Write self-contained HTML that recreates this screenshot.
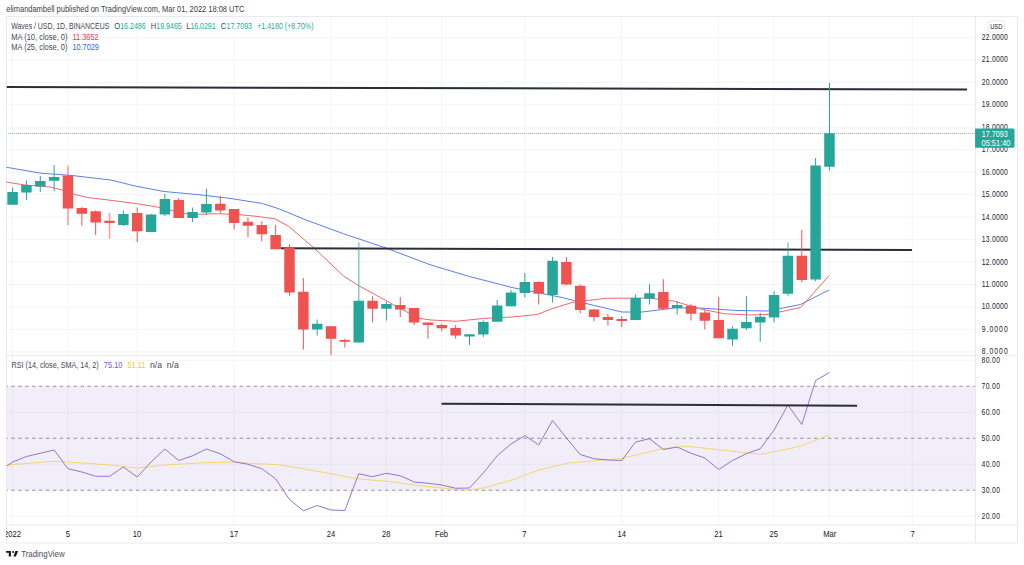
<!DOCTYPE html><html><head><meta charset="utf-8"><style>html,body{margin:0;padding:0;background:#fff;width:1024px;height:565px;overflow:hidden}svg{display:block;font-family:"Liberation Sans",sans-serif}</style></head><body>
<svg width="1024" height="565" viewBox="0 0 1024 565">
<rect x="0" y="0" width="1024" height="565" fill="#fff"/>
<defs><clipPath id="cm"><rect x="6.5" y="16.5" width="969" height="339"/></clipPath><clipPath id="cr"><rect x="6.5" y="355.5" width="969" height="169.5"/></clipPath></defs>
<g stroke="#f3f4f5" stroke-width="1"><line x1="12.50" y1="16.5" x2="12.50" y2="525"/><line x1="67.87" y1="16.5" x2="67.87" y2="525"/><line x1="137.09" y1="16.5" x2="137.09" y2="525"/><line x1="233.99" y1="16.5" x2="233.99" y2="525"/><line x1="330.89" y1="16.5" x2="330.89" y2="525"/><line x1="386.26" y1="16.5" x2="386.26" y2="525"/><line x1="441.63" y1="16.5" x2="441.63" y2="525"/><line x1="524.69" y1="16.5" x2="524.69" y2="525"/><line x1="621.59" y1="16.5" x2="621.59" y2="525"/><line x1="718.49" y1="16.5" x2="718.49" y2="525"/><line x1="773.87" y1="16.5" x2="773.87" y2="525"/><line x1="829.24" y1="16.5" x2="829.24" y2="525"/><line x1="912.29" y1="16.5" x2="912.29" y2="525"/><line x1="6.5" y1="351.80" x2="975.5" y2="351.80"/><line x1="6.5" y1="329.34" x2="975.5" y2="329.34"/><line x1="6.5" y1="306.88" x2="975.5" y2="306.88"/><line x1="6.5" y1="284.43" x2="975.5" y2="284.43"/><line x1="6.5" y1="261.97" x2="975.5" y2="261.97"/><line x1="6.5" y1="239.51" x2="975.5" y2="239.51"/><line x1="6.5" y1="217.06" x2="975.5" y2="217.06"/><line x1="6.5" y1="194.60" x2="975.5" y2="194.60"/><line x1="6.5" y1="172.14" x2="975.5" y2="172.14"/><line x1="6.5" y1="149.69" x2="975.5" y2="149.69"/><line x1="6.5" y1="127.23" x2="975.5" y2="127.23"/><line x1="6.5" y1="104.77" x2="975.5" y2="104.77"/><line x1="6.5" y1="82.31" x2="975.5" y2="82.31"/><line x1="6.5" y1="59.86" x2="975.5" y2="59.86"/><line x1="6.5" y1="37.40" x2="975.5" y2="37.40"/><line x1="6.5" y1="360.25" x2="975.5" y2="360.25"/><line x1="6.5" y1="412.25" x2="975.5" y2="412.25"/><line x1="6.5" y1="464.25" x2="975.5" y2="464.25"/><line x1="6.5" y1="516.25" x2="975.5" y2="516.25"/></g>
<rect x="6.5" y="386.25" width="969.0" height="104.00" fill="#7e57c2" fill-opacity="0.1"/>
<g stroke="#787b86" stroke-width="1" stroke-dasharray="3.46,3.46" stroke-dashoffset="2.1" opacity="0.8">
<line x1="6.5" y1="386.25" x2="975.5" y2="386.25"/>
<line x1="6.5" y1="438.25" x2="975.5" y2="438.25"/>
<line x1="6.5" y1="490.25" x2="975.5" y2="490.25"/>
</g>
<g stroke="#e8eaee" stroke-width="1" fill="none">
<rect x="6.5" y="16.5" width="1011.0" height="526.5"/>
<line x1="975.5" y1="16.5" x2="975.5" y2="543"/>
<line x1="6.5" y1="355.5" x2="1017.5" y2="355.5"/>
<line x1="6.5" y1="525" x2="1017.5" y2="525"/>
</g>
<g clip-path="url(#cm)">
<line x1="6" y1="133.5" x2="975.5" y2="133.5" stroke="#26a69a" stroke-width="1" stroke-dasharray="1,1" stroke-opacity="0.65" shape-rendering="crispEdges"/>
<polyline points="6.00,167.20 41.00,173.20 70.00,175.30 111.00,180.00 135.00,186.00 164.00,191.50 197.00,194.50 230.00,198.40 262.50,203.50 279.00,208.80 306.00,220.00 343.50,233.75 386.00,248.00 401.00,253.75 431.00,265.00 468.50,276.25 512.00,287.50 537.00,292.50 562.00,297.50 587.00,303.75 622.00,312.00 642.00,312.00 674.50,308.00 699.50,308.00 737.00,310.50 768.00,311.00 800.50,304.50 829.00,290.00" fill="none" stroke="#5b7ff0" stroke-width="1"/>
<polyline points="6.00,182.00 25.00,185.00 50.00,187.00 62.50,190.00 75.00,194.50 87.50,197.50 112.50,200.50 137.50,203.75 160.00,207.50 175.00,211.25 190.00,214.50 200.00,214.25 217.50,213.75 235.00,214.25 256.00,216.25 274.75,218.75 288.50,226.25 313.50,247.50 343.50,276.00 358.50,285.50 393.50,304.75 418.50,318.25 431.00,320.00 456.00,321.25 483.50,318.50 512.00,317.00 537.00,314.50 552.00,308.75 572.00,302.50 587.00,300.50 607.00,298.25 649.50,298.00 674.50,301.25 699.50,308.75 724.50,313.75 749.50,315.00 768.00,314.50 800.50,307.50 813.00,293.75 829.00,275.50" fill="none" stroke="#f0666a" stroke-width="1"/>
<line x1="6.5" y1="87" x2="967" y2="89.5" stroke="#2a2e39" stroke-width="2"/>
<line x1="281" y1="248.3" x2="912" y2="249.9" stroke="#2a2e39" stroke-width="2"/>
<line x1="12.60" y1="187.5" x2="12.60" y2="204.75" stroke="#26a69a" stroke-width="1"/>
<rect x="7.35" y="192" width="10.5" height="12.75" fill="#26a69a"/>
<line x1="26.45" y1="180.5" x2="26.45" y2="200" stroke="#26a69a" stroke-width="1"/>
<rect x="21.20" y="185" width="10.5" height="7.50" fill="#26a69a"/>
<line x1="40.29" y1="176" x2="40.29" y2="192" stroke="#26a69a" stroke-width="1"/>
<rect x="35.04" y="181" width="10.5" height="5.50" fill="#26a69a"/>
<line x1="54.14" y1="165" x2="54.14" y2="191" stroke="#26a69a" stroke-width="1"/>
<rect x="48.89" y="177" width="10.5" height="3.75" fill="#26a69a"/>
<line x1="67.98" y1="165.5" x2="67.98" y2="225" stroke="#ef5350" stroke-opacity="0.55" stroke-width="1.6"/>
<rect x="62.73" y="175.5" width="10.5" height="33.00" fill="#ef5350"/>
<line x1="81.83" y1="207" x2="81.83" y2="225.75" stroke="#ef5350" stroke-width="1"/>
<rect x="76.58" y="208" width="10.5" height="5.75" fill="#ef5350"/>
<line x1="95.67" y1="210.5" x2="95.67" y2="235" stroke="#ef5350" stroke-width="1"/>
<rect x="90.42" y="211.25" width="10.5" height="11.25" fill="#ef5350"/>
<line x1="109.52" y1="213" x2="109.52" y2="238.75" stroke="#ef5350" stroke-opacity="0.55" stroke-width="1.6"/>
<rect x="104.27" y="220.75" width="10.5" height="2.25" fill="#ef5350"/>
<line x1="123.36" y1="210.5" x2="123.36" y2="226" stroke="#26a69a" stroke-width="1"/>
<rect x="118.11" y="214" width="10.5" height="11.00" fill="#26a69a"/>
<line x1="137.21" y1="207.5" x2="137.21" y2="242" stroke="#ef5350" stroke-width="1"/>
<rect x="131.96" y="213" width="10.5" height="18.25" fill="#ef5350"/>
<line x1="151.05" y1="214" x2="151.05" y2="232" stroke="#26a69a" stroke-width="1"/>
<rect x="145.80" y="214.5" width="10.5" height="17.50" fill="#26a69a"/>
<line x1="164.90" y1="194" x2="164.90" y2="216" stroke="#26a69a" stroke-width="1"/>
<rect x="159.65" y="199" width="10.5" height="15.50" fill="#26a69a"/>
<line x1="178.74" y1="198" x2="178.74" y2="218" stroke="#ef5350" stroke-width="1"/>
<rect x="173.49" y="200" width="10.5" height="18.00" fill="#ef5350"/>
<line x1="192.59" y1="207.5" x2="192.59" y2="222" stroke="#26a69a" stroke-width="1"/>
<rect x="187.34" y="212" width="10.5" height="6.00" fill="#26a69a"/>
<line x1="206.43" y1="188.75" x2="206.43" y2="215" stroke="#26a69a" stroke-width="1"/>
<rect x="201.18" y="204" width="10.5" height="8.50" fill="#26a69a"/>
<line x1="220.28" y1="196" x2="220.28" y2="213" stroke="#ef5350" stroke-width="1"/>
<rect x="215.03" y="203.75" width="10.5" height="6.75" fill="#ef5350"/>
<line x1="234.12" y1="209" x2="234.12" y2="229.5" stroke="#ef5350" stroke-width="1"/>
<rect x="228.87" y="209" width="10.5" height="14.00" fill="#ef5350"/>
<line x1="247.97" y1="217.5" x2="247.97" y2="237" stroke="#ef5350" stroke-width="1"/>
<rect x="242.72" y="221.75" width="10.5" height="4.00" fill="#ef5350"/>
<line x1="261.81" y1="221.25" x2="261.81" y2="241.25" stroke="#ef5350" stroke-width="1"/>
<rect x="256.56" y="225" width="10.5" height="9.25" fill="#ef5350"/>
<line x1="275.66" y1="225" x2="275.66" y2="249.25" stroke="#ef5350" stroke-width="1"/>
<rect x="270.41" y="235" width="10.5" height="14.25" fill="#ef5350"/>
<line x1="289.50" y1="244.5" x2="289.50" y2="295.75" stroke="#ef5350" stroke-width="1"/>
<rect x="284.25" y="247.5" width="10.5" height="45.00" fill="#ef5350"/>
<line x1="303.35" y1="278" x2="303.35" y2="349.5" stroke="#ef5350" stroke-width="1"/>
<rect x="298.10" y="291.75" width="10.5" height="37.75" fill="#ef5350"/>
<line x1="317.19" y1="319.5" x2="317.19" y2="335.5" stroke="#26a69a" stroke-width="1"/>
<rect x="311.94" y="323.75" width="10.5" height="5.75" fill="#26a69a"/>
<line x1="331.04" y1="326.25" x2="331.04" y2="355.5" stroke="#ef5350" stroke-width="1"/>
<rect x="325.79" y="326.25" width="10.5" height="12.50" fill="#ef5350"/>
<line x1="344.88" y1="338.75" x2="344.88" y2="347.5" stroke="#ef5350" stroke-width="1"/>
<rect x="339.63" y="340" width="10.5" height="1.75" fill="#ef5350"/>
<line x1="358.73" y1="242.5" x2="358.73" y2="342.5" stroke="#26a69a" stroke-opacity="0.55" stroke-width="1.6"/>
<rect x="353.48" y="300.75" width="10.5" height="41.75" fill="#26a69a"/>
<line x1="372.57" y1="296.25" x2="372.57" y2="322.5" stroke="#ef5350" stroke-width="1"/>
<rect x="367.32" y="300.75" width="10.5" height="8.00" fill="#ef5350"/>
<line x1="386.42" y1="301.7" x2="386.42" y2="320.5" stroke="#26a69a" stroke-width="1"/>
<rect x="381.17" y="304" width="10.5" height="4.75" fill="#26a69a"/>
<line x1="400.26" y1="297" x2="400.26" y2="317" stroke="#ef5350" stroke-width="1"/>
<rect x="395.01" y="305" width="10.5" height="4.50" fill="#ef5350"/>
<line x1="414.11" y1="308" x2="414.11" y2="325" stroke="#ef5350" stroke-width="1"/>
<rect x="408.86" y="308" width="10.5" height="14.50" fill="#ef5350"/>
<line x1="427.95" y1="322.5" x2="427.95" y2="338.75" stroke="#ef5350" stroke-width="1"/>
<rect x="422.70" y="322.5" width="10.5" height="2.50" fill="#ef5350"/>
<line x1="441.80" y1="323.75" x2="441.80" y2="331.25" stroke="#ef5350" stroke-width="1"/>
<rect x="436.55" y="325" width="10.5" height="3.25" fill="#ef5350"/>
<line x1="455.64" y1="325" x2="455.64" y2="338.75" stroke="#ef5350" stroke-width="1"/>
<rect x="450.39" y="328" width="10.5" height="7.50" fill="#ef5350"/>
<line x1="469.49" y1="334.25" x2="469.49" y2="345" stroke="#26a69a" stroke-width="1"/>
<rect x="464.24" y="334.25" width="10.5" height="2.25" fill="#26a69a"/>
<line x1="483.33" y1="320.5" x2="483.33" y2="337" stroke="#26a69a" stroke-width="1"/>
<rect x="478.08" y="322" width="10.5" height="12.50" fill="#26a69a"/>
<line x1="497.18" y1="300" x2="497.18" y2="321.75" stroke="#26a69a" stroke-width="1"/>
<rect x="491.93" y="305.5" width="10.5" height="16.25" fill="#26a69a"/>
<line x1="511.02" y1="290" x2="511.02" y2="306.25" stroke="#26a69a" stroke-width="1"/>
<rect x="505.77" y="292.5" width="10.5" height="13.75" fill="#26a69a"/>
<line x1="524.87" y1="273" x2="524.87" y2="297.5" stroke="#26a69a" stroke-width="1"/>
<rect x="519.62" y="282" width="10.5" height="11.00" fill="#26a69a"/>
<line x1="538.71" y1="281.25" x2="538.71" y2="304.5" stroke="#ef5350" stroke-width="1"/>
<rect x="533.46" y="282" width="10.5" height="11.75" fill="#ef5350"/>
<line x1="552.56" y1="257" x2="552.56" y2="302.5" stroke="#26a69a" stroke-width="1"/>
<rect x="547.31" y="260.75" width="10.5" height="34.25" fill="#26a69a"/>
<line x1="566.40" y1="257" x2="566.40" y2="285.5" stroke="#ef5350" stroke-width="1"/>
<rect x="561.15" y="262" width="10.5" height="22.50" fill="#ef5350"/>
<line x1="580.25" y1="284.5" x2="580.25" y2="313.25" stroke="#ef5350" stroke-width="1"/>
<rect x="575.00" y="285.75" width="10.5" height="24.25" fill="#ef5350"/>
<line x1="594.09" y1="308.75" x2="594.09" y2="321.25" stroke="#ef5350" stroke-width="1"/>
<rect x="588.84" y="309.5" width="10.5" height="7.50" fill="#ef5350"/>
<line x1="607.94" y1="313.75" x2="607.94" y2="325.5" stroke="#ef5350" stroke-width="1"/>
<rect x="602.69" y="317" width="10.5" height="3.00" fill="#ef5350"/>
<line x1="621.78" y1="316.25" x2="621.78" y2="327" stroke="#ef5350" stroke-width="1"/>
<rect x="616.53" y="319" width="10.5" height="2.00" fill="#ef5350"/>
<line x1="635.62" y1="294.5" x2="635.62" y2="320" stroke="#26a69a" stroke-width="1"/>
<rect x="630.38" y="298" width="10.5" height="22.00" fill="#26a69a"/>
<line x1="649.47" y1="284.25" x2="649.47" y2="304.5" stroke="#26a69a" stroke-width="1"/>
<rect x="644.22" y="293.25" width="10.5" height="5.50" fill="#26a69a"/>
<line x1="663.32" y1="279.25" x2="663.32" y2="308.75" stroke="#ef5350" stroke-width="1"/>
<rect x="658.07" y="292" width="10.5" height="16.75" fill="#ef5350"/>
<line x1="677.16" y1="301.25" x2="677.16" y2="314.5" stroke="#26a69a" stroke-width="1"/>
<rect x="671.91" y="305" width="10.5" height="3.00" fill="#26a69a"/>
<line x1="691.01" y1="303.75" x2="691.01" y2="320.5" stroke="#ef5350" stroke-width="1"/>
<rect x="685.76" y="305.75" width="10.5" height="8.00" fill="#ef5350"/>
<line x1="704.85" y1="309.5" x2="704.85" y2="329.5" stroke="#ef5350" stroke-width="1"/>
<rect x="699.60" y="312.5" width="10.5" height="8.25" fill="#ef5350"/>
<line x1="718.70" y1="296.75" x2="718.70" y2="338.25" stroke="#ef5350" stroke-width="1"/>
<rect x="713.45" y="320" width="10.5" height="18.25" fill="#ef5350"/>
<line x1="732.54" y1="326.25" x2="732.54" y2="345.75" stroke="#26a69a" stroke-width="1"/>
<rect x="727.29" y="328.75" width="10.5" height="10.75" fill="#26a69a"/>
<line x1="746.39" y1="296.25" x2="746.39" y2="330" stroke="#26a69a" stroke-width="1"/>
<rect x="741.14" y="322" width="10.5" height="6.25" fill="#26a69a"/>
<line x1="760.23" y1="313" x2="760.23" y2="341.75" stroke="#26a69a" stroke-width="1"/>
<rect x="754.98" y="316.75" width="10.5" height="5.75" fill="#26a69a"/>
<line x1="774.08" y1="291.25" x2="774.08" y2="322.5" stroke="#26a69a" stroke-width="1"/>
<rect x="768.83" y="295" width="10.5" height="22.50" fill="#26a69a"/>
<line x1="787.92" y1="242.5" x2="787.92" y2="296.25" stroke="#26a69a" stroke-opacity="0.55" stroke-width="1.6"/>
<rect x="782.67" y="255.75" width="10.5" height="38.00" fill="#26a69a"/>
<line x1="801.77" y1="230" x2="801.77" y2="282.5" stroke="#ef5350" stroke-width="1"/>
<rect x="796.52" y="255.75" width="10.5" height="24.25" fill="#ef5350"/>
<line x1="815.61" y1="158" x2="815.61" y2="281.25" stroke="#26a69a" stroke-width="1"/>
<rect x="810.36" y="165.5" width="10.5" height="114.00" fill="#26a69a"/>
<line x1="829.46" y1="83" x2="829.46" y2="170.75" stroke="#26a69a" stroke-width="1"/>
<rect x="824.21" y="133.25" width="10.5" height="33.50" fill="#26a69a"/>
</g>
<g clip-path="url(#cr)">
<polyline points="6.00,465.00 54.00,461.25 82.50,463.00 110.00,465.00 137.50,468.00 165.00,465.00 207.50,462.50 234.50,462.00 256.00,463.75 276.00,464.50 293.50,467.00 331.00,473.75 356.00,478.75 386.75,481.25 418.50,485.50 456.00,489.50 468.50,490.00 483.50,488.00 512.00,480.00 537.00,470.50 567.00,463.25 622.00,458.25 662.00,448.75 687.00,446.25 717.00,449.50 759.50,454.25 768.00,453.00 800.50,446.25 829.00,435.00" fill="none" stroke="#f5d56e" stroke-width="1"/>
<polyline points="6.50,466.25 12.60,462.00 26.45,456.50 40.29,453.25 54.14,450.00 67.98,468.75 81.83,472.00 95.67,476.25 109.52,476.25 123.36,467.00 137.21,477.00 151.05,462.00 164.90,449.00 178.74,460.50 192.59,455.75 206.43,449.00 220.28,453.75 234.12,461.75 247.97,464.25 261.81,468.75 275.66,478.75 289.50,499.50 303.35,510.75 317.19,505.50 331.04,510.00 344.88,510.50 358.73,473.75 372.57,476.75 386.42,473.25 400.26,475.75 414.11,482.00 427.95,483.25 441.80,485.00 455.64,488.25 469.49,488.00 483.33,473.00 497.18,455.75 511.02,444.00 524.87,435.50 538.71,445.00 552.56,420.50 566.40,438.00 580.25,454.50 594.09,458.75 607.94,460.00 621.78,460.50 635.62,442.00 649.47,438.75 663.32,449.50 677.16,447.00 691.01,453.25 704.85,458.00 718.70,469.50 732.54,460.50 746.39,453.75 760.23,448.75 774.08,430.00 787.92,405.00 801.77,424.50 815.61,380.50 829.46,372.50" fill="none" stroke="#9274d0" stroke-width="1"/>
<line x1="441.5" y1="403.75" x2="857" y2="405.75" stroke="#2a2e39" stroke-width="2"/>
</g>
<text x="0" y="0" transform="translate(6.25,12.0) scale(1,1.12)" font-size="7.8" fill="#3a3d48" textLength="238.25" lengthAdjust="spacingAndGlyphs" xml:space="preserve">elimandambell published on TradingView.com, Mar 01, 2022 18:08 UTC</text>
<text x="0" y="0" transform="translate(11.25,28.7) scale(1,1.12)" font-size="7.6" fill="#454855" textLength="98" lengthAdjust="spacingAndGlyphs" xml:space="preserve">Waves / USD, 1D, BINANCEUS</text>
<text x="0" y="0" transform="translate(114.25,28.7) scale(1,1.12)" font-size="7.6" fill="#454855" xml:space="preserve">O</text>
<text x="0" y="0" transform="translate(120.2,28.7) scale(1,1.12)" font-size="7.6" fill="#26a69a" textLength="25.5" lengthAdjust="spacingAndGlyphs" xml:space="preserve">16.2486</text>
<text x="0" y="0" transform="translate(150.75,28.7) scale(1,1.12)" font-size="7.6" fill="#454855" xml:space="preserve">H</text>
<text x="0" y="0" transform="translate(156.3,28.7) scale(1,1.12)" font-size="7.6" fill="#26a69a" textLength="25.5" lengthAdjust="spacingAndGlyphs" xml:space="preserve">19.9465</text>
<text x="0" y="0" transform="translate(186.25,28.7) scale(1,1.12)" font-size="7.6" fill="#454855" xml:space="preserve">L</text>
<text x="0" y="0" transform="translate(190.5,28.7) scale(1,1.12)" font-size="7.6" fill="#26a69a" textLength="25" lengthAdjust="spacingAndGlyphs" xml:space="preserve">16.0291</text>
<text x="0" y="0" transform="translate(220.75,28.7) scale(1,1.12)" font-size="7.6" fill="#454855" xml:space="preserve">C</text>
<text x="0" y="0" transform="translate(226.5,28.7) scale(1,1.12)" font-size="7.6" fill="#26a69a" textLength="25.5" lengthAdjust="spacingAndGlyphs" xml:space="preserve">17.7093</text>
<text x="0" y="0" transform="translate(257.25,28.7) scale(1,1.12)" font-size="7.6" fill="#26a69a" textLength="56.25" lengthAdjust="spacingAndGlyphs" xml:space="preserve">+1.4180 (+8.70%)</text>
<text x="0" y="0" transform="translate(11.25,39.5) scale(1,1.12)" font-size="7.6" fill="#454855" textLength="56.25" lengthAdjust="spacingAndGlyphs" xml:space="preserve">MA (10, close, 0)</text>
<text x="0" y="0" transform="translate(72.5,39.5) scale(1,1.12)" font-size="7.6" fill="#f23645" textLength="26.25" lengthAdjust="spacingAndGlyphs" xml:space="preserve">11.3652</text>
<text x="0" y="0" transform="translate(11.25,50.0) scale(1,1.12)" font-size="7.6" fill="#454855" textLength="56.25" lengthAdjust="spacingAndGlyphs" xml:space="preserve">MA (25, close, 0)</text>
<text x="0" y="0" transform="translate(72.5,50.0) scale(1,1.12)" font-size="7.6" fill="#2962ff" textLength="26.25" lengthAdjust="spacingAndGlyphs" xml:space="preserve">10.7029</text>
<text x="0" y="0" transform="translate(11.5,368.3) scale(1,1.12)" font-size="7.6" fill="#454855" textLength="87.25" lengthAdjust="spacingAndGlyphs" xml:space="preserve">RSI (14, close, SMA, 14, 2)</text>
<text x="0" y="0" transform="translate(103.75,368.3) scale(1,1.12)" font-size="7.6" fill="#7e57c2" textLength="18.75" lengthAdjust="spacingAndGlyphs" xml:space="preserve">75.10</text>
<text x="0" y="0" transform="translate(127.5,368.3) scale(1,1.12)" font-size="7.6" fill="#f0cd28" textLength="18" lengthAdjust="spacingAndGlyphs" xml:space="preserve">51.11</text>
<text x="0" y="0" transform="translate(150,368.3) scale(1,1.12)" font-size="7.6" fill="#454855" textLength="12" lengthAdjust="spacingAndGlyphs" xml:space="preserve">n/a</text>
<text x="0" y="0" transform="translate(166.75,368.3) scale(1,1.12)" font-size="7.6" fill="#454855" textLength="12" lengthAdjust="spacingAndGlyphs" xml:space="preserve">n/a</text>
<rect x="988.2" y="21" width="16.2" height="11" rx="2" fill="#fff" stroke="#e0e3eb" stroke-width="0.8"/>
<text x="0" y="0" transform="translate(990.2,29.4) scale(1,1.1)" font-size="7.0" fill="#131722" textLength="12.2" lengthAdjust="spacingAndGlyphs" xml:space="preserve">USD</text>
<text x="0" y="0" transform="translate(981.8,354.398) scale(1,1.28)" font-size="6.8" fill="#1e222d" textLength="25.9" lengthAdjust="spacing" xml:space="preserve">8.0000</text>
<text x="0" y="0" transform="translate(981.8,331.94100000000003) scale(1,1.28)" font-size="6.8" fill="#1e222d" textLength="25.9" lengthAdjust="spacing" xml:space="preserve">9.0000</text>
<text x="0" y="0" transform="translate(981.8,309.48400000000004) scale(1,1.28)" font-size="6.8" fill="#1e222d" textLength="25.9" lengthAdjust="spacing" xml:space="preserve">10.0000</text>
<text x="0" y="0" transform="translate(981.8,287.02700000000004) scale(1,1.28)" font-size="6.8" fill="#1e222d" textLength="25.9" lengthAdjust="spacing" xml:space="preserve">11.0000</text>
<text x="0" y="0" transform="translate(981.8,264.57) scale(1,1.28)" font-size="6.8" fill="#1e222d" textLength="25.9" lengthAdjust="spacing" xml:space="preserve">12.0000</text>
<text x="0" y="0" transform="translate(981.8,242.113) scale(1,1.28)" font-size="6.8" fill="#1e222d" textLength="25.9" lengthAdjust="spacing" xml:space="preserve">13.0000</text>
<text x="0" y="0" transform="translate(981.8,219.656) scale(1,1.28)" font-size="6.8" fill="#1e222d" textLength="25.9" lengthAdjust="spacing" xml:space="preserve">14.0000</text>
<text x="0" y="0" transform="translate(981.8,197.199) scale(1,1.28)" font-size="6.8" fill="#1e222d" textLength="25.9" lengthAdjust="spacing" xml:space="preserve">15.0000</text>
<text x="0" y="0" transform="translate(981.8,174.74200000000002) scale(1,1.28)" font-size="6.8" fill="#1e222d" textLength="25.9" lengthAdjust="spacing" xml:space="preserve">16.0000</text>
<text x="0" y="0" transform="translate(981.8,152.285) scale(1,1.28)" font-size="6.8" fill="#1e222d" textLength="25.9" lengthAdjust="spacing" xml:space="preserve">17.0000</text>
<text x="0" y="0" transform="translate(981.8,129.828) scale(1,1.28)" font-size="6.8" fill="#1e222d" textLength="25.9" lengthAdjust="spacing" xml:space="preserve">18.0000</text>
<text x="0" y="0" transform="translate(981.8,107.37100000000001) scale(1,1.28)" font-size="6.8" fill="#1e222d" textLength="25.9" lengthAdjust="spacing" xml:space="preserve">19.0000</text>
<text x="0" y="0" transform="translate(981.8,84.91399999999999) scale(1,1.28)" font-size="6.8" fill="#1e222d" textLength="25.9" lengthAdjust="spacing" xml:space="preserve">20.0000</text>
<text x="0" y="0" transform="translate(981.8,62.457) scale(1,1.28)" font-size="6.8" fill="#1e222d" textLength="25.9" lengthAdjust="spacing" xml:space="preserve">21.0000</text>
<text x="0" y="0" transform="translate(981.8,40.0) scale(1,1.28)" font-size="6.8" fill="#1e222d" textLength="25.9" lengthAdjust="spacing" xml:space="preserve">22.0000</text>
<text x="0" y="0" transform="translate(981.6,362.85) scale(1,1.28)" font-size="6.8" fill="#1e222d" textLength="18.4" lengthAdjust="spacing" xml:space="preserve">80.00</text>
<text x="0" y="0" transform="translate(981.6,388.85) scale(1,1.28)" font-size="6.8" fill="#1e222d" textLength="18.4" lengthAdjust="spacing" xml:space="preserve">70.00</text>
<text x="0" y="0" transform="translate(981.6,414.85) scale(1,1.28)" font-size="6.8" fill="#1e222d" textLength="18.4" lengthAdjust="spacing" xml:space="preserve">60.00</text>
<text x="0" y="0" transform="translate(981.6,440.85) scale(1,1.28)" font-size="6.8" fill="#1e222d" textLength="18.4" lengthAdjust="spacing" xml:space="preserve">50.00</text>
<text x="0" y="0" transform="translate(981.6,466.85) scale(1,1.28)" font-size="6.8" fill="#1e222d" textLength="18.4" lengthAdjust="spacing" xml:space="preserve">40.00</text>
<text x="0" y="0" transform="translate(981.6,492.85) scale(1,1.28)" font-size="6.8" fill="#1e222d" textLength="18.4" lengthAdjust="spacing" xml:space="preserve">30.00</text>
<text x="0" y="0" transform="translate(981.6,518.85) scale(1,1.28)" font-size="6.8" fill="#1e222d" textLength="18.4" lengthAdjust="spacing" xml:space="preserve">20.00</text>
<path d="M975.1 128.5 H1013 a1.5 1.5 0 0 1 1.5 1.5 V146.2 a1.5 1.5 0 0 1 -1.5 1.5 H975.1 Z" fill="#26a69a"/>
<text x="0" y="0" transform="translate(981.8,137.2) scale(1,1.12)" font-size="7.6" fill="#fff" textLength="25.9" lengthAdjust="spacingAndGlyphs" xml:space="preserve">17.7093</text>
<text x="0" y="0" transform="translate(981.5,145.9) scale(1,1.12)" font-size="7.6" fill="#fff" textLength="29" lengthAdjust="spacingAndGlyphs" xml:space="preserve">05:51:40</text>
<text x="0" y="0" transform="translate(12.5,537.2) scale(1,1.1)" font-size="7.6" fill="#131722" text-anchor="middle" xml:space="preserve">2022</text>
<text x="0" y="0" transform="translate(67.9,537.2) scale(1,1.1)" font-size="7.6" fill="#131722" text-anchor="middle" xml:space="preserve">5</text>
<text x="0" y="0" transform="translate(137.0,537.2) scale(1,1.1)" font-size="7.6" fill="#131722" text-anchor="middle" xml:space="preserve">10</text>
<text x="0" y="0" transform="translate(234.0,537.2) scale(1,1.1)" font-size="7.6" fill="#131722" text-anchor="middle" xml:space="preserve">17</text>
<text x="0" y="0" transform="translate(331.0,537.2) scale(1,1.1)" font-size="7.6" fill="#131722" text-anchor="middle" xml:space="preserve">24</text>
<text x="0" y="0" transform="translate(386.3,537.2) scale(1,1.1)" font-size="7.6" fill="#131722" text-anchor="middle" xml:space="preserve">28</text>
<text x="0" y="0" transform="translate(441.5,537.2) scale(1,1.1)" font-size="7.6" fill="#131722" text-anchor="middle" xml:space="preserve">Feb</text>
<text x="0" y="0" transform="translate(524.4,537.2) scale(1,1.1)" font-size="7.6" fill="#131722" text-anchor="middle" xml:space="preserve">7</text>
<text x="0" y="0" transform="translate(621.7,537.2) scale(1,1.1)" font-size="7.6" fill="#131722" text-anchor="middle" xml:space="preserve">14</text>
<text x="0" y="0" transform="translate(718.4,537.2) scale(1,1.1)" font-size="7.6" fill="#131722" text-anchor="middle" xml:space="preserve">21</text>
<text x="0" y="0" transform="translate(773.8,537.2) scale(1,1.1)" font-size="7.6" fill="#131722" text-anchor="middle" xml:space="preserve">25</text>
<text x="0" y="0" transform="translate(829.7,537.2) scale(1,1.1)" font-size="7.6" fill="#131722" text-anchor="middle" xml:space="preserve">Mar</text>
<text x="0" y="0" transform="translate(912.5,537.2) scale(1,1.1)" font-size="7.6" fill="#131722" text-anchor="middle" xml:space="preserve">7</text>
<rect x="0" y="526" width="6" height="17" fill="#fff"/>
<g fill="#131722"><path d="M6.1 551 H10.9 V556.5 H8.8 V552.8 H6.1 Z"/><circle cx="13.1" cy="551.9" r="1.0"/><path d="M15.4 551 H18.1 L15.9 556.5 H13.4 Z"/></g>
<text x="0" y="0" transform="translate(21.2,556.8) scale(1,1.12)" font-size="8.4" fill="#4a4e59" textLength="43.4" lengthAdjust="spacingAndGlyphs" xml:space="preserve">TradingView</text>
</svg></body></html>
